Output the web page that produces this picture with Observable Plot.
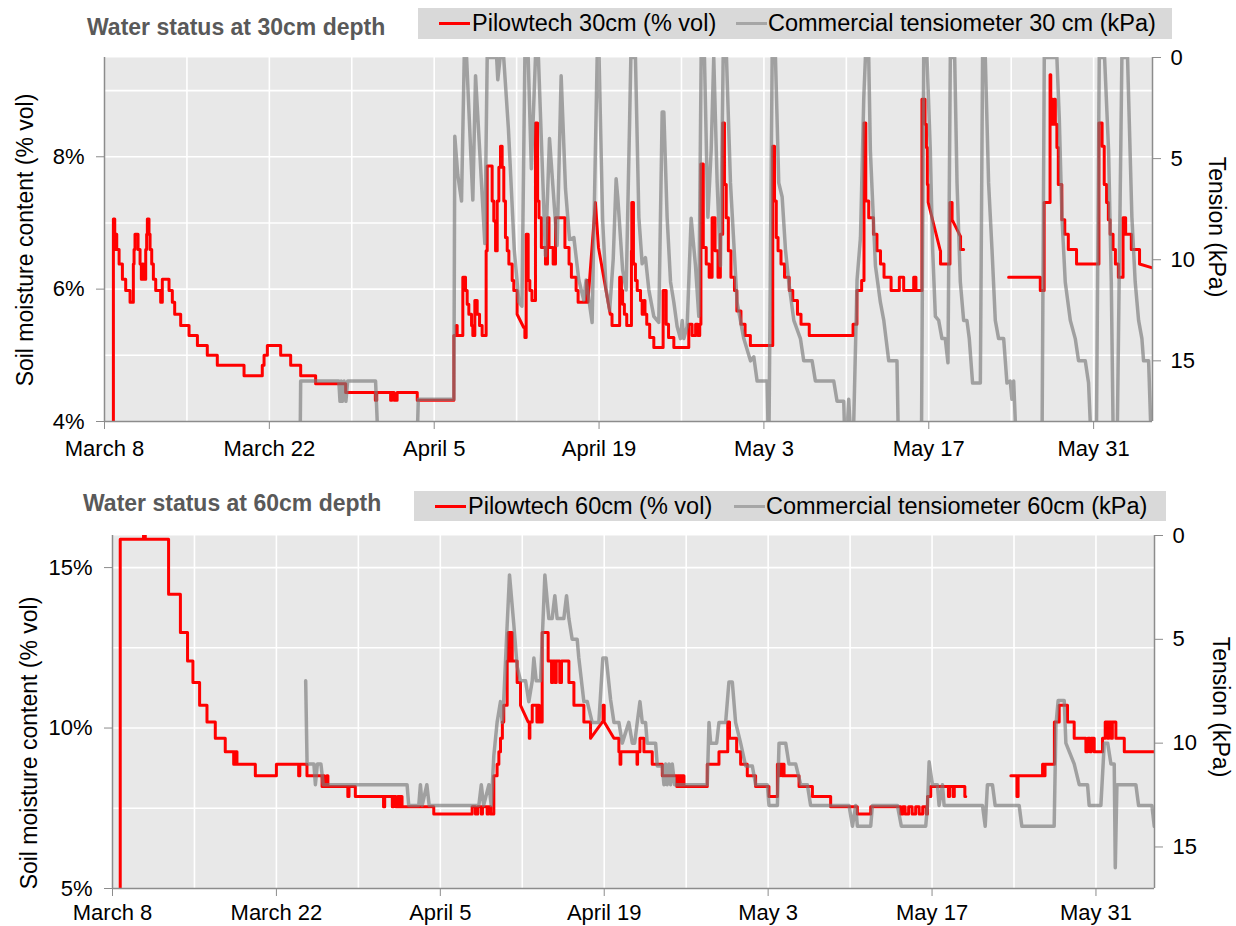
<!DOCTYPE html>
<html><head><meta charset="utf-8">
<script src="https://cdn.jsdelivr.net/npm/d3@7"></script>
<script src="https://cdn.jsdelivr.net/npm/@observablehq/plot@0.6"></script>
<style>
body{margin:0;background:#fff;font-family:"Liberation Sans",Arial,Helvetica,sans-serif;}
#wrap{position:relative;width:1236px;height:926px;overflow:hidden;background:#fff;}
.title{position:absolute;font-weight:bold;font-size:23px;line-height:1;color:#595959;white-space:nowrap;}
.legend{position:absolute;background:#d9d9d9;}
.legend .sw{position:absolute;width:31px;height:3px;}
.legend .tx{position:absolute;top:0;font-size:23.5px;color:#000;white-space:nowrap;}
.atitle{position:absolute;font-size:23px;line-height:1;color:#000;white-space:nowrap;}
.chart{position:absolute;left:0;}
</style></head>
<body><div id="wrap"></div>
<script>
// ---------- data (day offset from March 8, value) ----------
// Pilowtech 30cm (% vol); third element 1 = linear ramp to next reading; null = no data
const p30 = [
[0.72,0],[0.755,7.06],[0.87,6.83],[0.95,6.60],[1.0,6.83],[1.04,6.60],[1.24,6.38],[1.52,6.15],[1.8,5.98],[2.17,5.80],[2.45,6.38],[2.51,6.60],[2.59,6.83],[2.85,6.60],[3.02,6.38],[3.13,6.15],[3.2,6.38],[3.3,6.15],[3.5,6.60],[3.58,6.83],[3.64,7.06],[3.78,6.83],[3.87,6.60],[4.01,6.38],[4.15,6.15],[4.35,5.98],[4.77,5.80],[4.91,6.15],[5.48,5.98],[5.76,5.80],[5.96,5.62],[6.47,5.45],[7.18,5.30],[7.89,5.15],[8.73,5.00],[9.58,4.85],[11.85,4.69],[13.4,4.85],[13.55,5.00],[13.83,5.15],[14.96,5.00],[15.81,4.85],[16.66,4.69],[17.93,4.57],[20.48,4.44],[23.0,4.32],[23.12,4.44],[24.3,4.32],[24.4,4.44],[24.6,4.32],[24.85,4.44],[26.56,4.32],
[29.67,5.30],[29.87,5.45],[29.95,5.30],[30.43,6.18],[30.66,5.98],[30.8,5.77],[30.94,5.62],[31.17,5.45],[31.28,5.30],[31.45,5.83],[31.65,5.62],[31.85,5.45],[32.07,5.30],[32.41,6.58],[32.5,7.86],[32.92,7.33],[33.06,7.03],[33.21,6.58],[33.35,7.33],[33.49,7.84],[33.63,8.16],[33.77,7.84],[33.91,7.33],[34.05,6.78],[34.2,6.58],[34.34,6.38],[34.62,6.13],[34.76,5.98],[35.04,5.62,1],[35.6,5.42],[35.7,5.27],[35.81,6.83],[35.98,6.13],[36.12,5.98],[36.3,5.83],[36.6,8.51],[36.78,7.33],[36.9,7.08],[37.1,6.63],[37.45,6.38],[37.62,7.08],[37.75,6.63],[38.1,6.38],[38.3,7.08],[39.1,6.63],[39.45,6.38],[39.65,6.18],[40.05,5.98],[40.22,5.80],[40.95,6.13],[41.05,5.80,1],[41.69,7.31,1],[41.95,6.63,1],[42.95,5.62],[43.1,5.45],[43.75,6.18],[43.9,5.98],[44.0,5.77],[44.15,5.62],[44.35,5.45],
[44.75,6.58],[44.78,7.31],[44.92,6.38],[45.09,6.13],[45.24,5.98],[45.52,5.83],[45.66,5.62],[45.8,5.83],[45.9,5.62],[46.05,5.47],[46.3,5.27],[46.65,5.12],[47.44,5.98],[47.7,5.47],[47.9,5.27],[48.35,5.12],[49.62,5.47],[49.9,5.30],[50.2,5.47],[50.4,5.30],[50.55,5.47],[50.65,7.89],[50.85,6.63],[51.1,6.38],[51.35,6.18],[51.6,7.08],[51.85,6.58],[52.1,6.18],[52.3,6.83],[52.5,8.51],[52.65,7.58],[52.8,7.08],[52.98,6.58],[53.2,6.18],[53.5,5.98],[53.7,5.67],[54.05,5.47],[54.4,5.30],[54.85,5.15],[56.75,8.16],[56.9,7.33],[57.05,6.78],[57.2,6.58],[57.45,6.38],[57.75,6.18],[58.15,5.98],[58.45,5.83],[58.85,5.62],[59.15,5.47],[59.85,5.30],[63.57,5.47],[63.9,5.98],[64.3,6.13],[64.5,8.51],[64.65,7.33],[64.9,7.08],[65.3,6.83],[65.6,6.58],[65.9,6.38],[66.2,6.18],[66.8,5.98],[67.5,6.18],[67.87,5.98],[68.72,6.18],[68.91,5.98],
[69.42,8.87],[69.68,8.49],[69.8,8.14],[69.88,7.58],[69.95,7.31,1],[70.98,6.58],[71.0,6.38],[71.8,7.31],[71.98,7.05,1],[72.68,6.80],[72.7,6.60],[72.96,null],
[76.78,6.18],[79.47,5.98],[79.8,7.31],[80.3,9.24],[80.36,8.49],[80.45,8.87],[80.55,8.49],[80.65,8.87],[80.75,8.49],[80.88,8.14],[81.0,7.58],[81.3,7.05],[81.55,6.83],[81.85,6.60],[82.55,6.38],[84.45,8.51],[84.72,8.16],[84.9,7.58],[85.1,7.31],[85.25,7.05],[85.4,6.83],[85.65,6.60],[85.85,6.38],[86.1,6.18],[86.5,7.08],[86.72,6.83],[87.2,6.60],[87.9,6.38,1],[89.0,6.32]
];
// Commercial tensiometer 30 cm (kPa)
const t30 = [
[16.6,20],[16.66,16.0],[19.9,16.0],[20.0,17.0],[20.1,16.0],[20.2,17.0],[20.35,16.0],[20.5,17.0],[20.65,16.0],[23.02,16.0],[23.3,20],[26.5,20],[26.65,16.9],[29.67,16.9],[29.75,3.9],[30.0,5.8],[30.32,7.1],[30.55,0],[30.75,0],[31.28,7.05],[31.51,0.9],[32.3,9.2],[32.5,0],[33.3,0],[33.4,1.1],[33.6,0],[33.9,0],[34.3,3.5],[34.8,9.5],[35.19,12.1],[35.45,12.3],[35.7,0],[35.98,0],[36.25,5.5],[36.6,0],[36.85,0],[37.45,9.8],[37.79,4.0],[38.44,9.3],[38.78,0.9],[39.15,6.5],[39.49,9.0],[39.86,8.9],[40.28,11.0],[40.7,12.0],[40.9,11.0],[41.41,13.1],[41.84,0],[42.0,0],[42.3,8.0],[42.6,11.5],[42.9,12.5],[43.2,10.0],[43.45,6.0],[43.6,7.0],[44.0,10.5],[44.3,11.5],[44.6,3.0],[44.7,0],[45.09,0],
[45.38,7.9],[45.66,10.2],[45.94,9.9],[46.23,11.5],[46.65,12.8],[47.07,13.1],[47.36,2.7],[47.5,2.7],[47.78,7.9],[48.07,11.1],[48.35,12.1],[48.63,13.3],[48.91,13.9],[49.06,13.0],[49.2,13.9],[49.48,13.3],[49.82,7.95],[50.19,10.3],[50.47,12.8],[50.67,0],[50.95,0],[51.24,7.9],[51.52,4.6],[51.74,0],[52.03,6.2],[52.31,10.3],[52.54,0],[52.82,0],[53.16,6.2],[53.72,12.1],[54.29,13.9],[54.86,15.0],[55.14,14.8],[55.42,16.0],[56.27,16.0],[56.41,20],[56.7,0],[56.98,0],[57.26,6.2],[57.55,6.9],[57.83,9.5],[58.11,11.1],[58.54,13.0],[59.1,13.9],[59.38,15.0],[60.09,15.0],[60.37,16.0],[61.93,16.0],[62.21,17.0],[62.78,17.0],[62.92,20],[63.2,16.9],[63.49,20],[63.63,18],[63.91,11],[64.2,8.9],[64.48,2],[64.62,0],[64.9,0],[65.04,4.6],[65.47,10.3],[65.89,12.1],[66.18,13.0],[66.6,15.0],[67.3,15.0],[67.45,20],
[69.37,20],[69.57,0],[69.85,0],[70.13,4.6],[70.33,9.5],[70.56,12.8],[70.84,13.0],[71.12,13.9],[71.4,13.9],[71.63,15.1],[71.83,0],[72.2,0],[72.4,6.2],[72.68,11.1],[72.96,13.0],[73.24,13.0],[73.44,13.9],[73.72,16.1],[74.38,16.1],[74.57,0],[74.8,0],[75.08,6.2],[75.37,9.5],[75.65,13.0],[75.93,13.9],[76.36,13.9],[76.64,16.1],[76.92,16.0],[77.06,16.9],[77.21,16.0],[77.49,20],[79.61,20],[79.81,0],[80.88,0],[81.08,2.95],[81.31,7.9],[81.59,11.1],[82.02,13.0],[82.44,13.9],[82.72,15.0],[83.29,15.0],[83.57,16.1],[83.86,20],[84.22,20],[84.48,0],[84.93,0],[85.27,4.6],[85.5,11.1],[85.69,20],[85.98,20],[86.4,0],[86.88,0],[87.25,7.9],[87.53,11.1],[87.82,13.0],[88.1,13.9],[88.24,15.0],[88.67,15.0],[88.95,20]
];
// Pilowtech 60cm (% vol)
const p60 = [
[0.62,0],[0.66,15.88],[2.65,16.0],[2.8,15.88],[4.79,14.17],[5.8,12.98],[6.41,12.09],[6.87,11.42],[7.44,10.71],[8.07,10.19],[8.78,9.68],[9.63,9.26],[10.35,8.87],[10.42,9.26],[10.5,8.87],[10.56,9.26],[10.63,8.87],[12.2,8.51],[14.0,8.87],[15.9,8.51],[16.0,8.87],[16.61,8.51],[17.9,8.18],[18.0,8.51],[18.1,8.18],[18.3,8.51],[18.4,8.18],[20.1,7.87],[20.2,8.18],[20.74,7.87],[23.15,7.55],[23.25,7.87],[23.9,7.55],[24.0,7.87],[24.2,7.55],[24.35,7.87],[24.5,7.55],[24.6,7.87],[24.73,7.55],[27.44,7.32],[30.72,7.55],[31.0,7.32],[31.2,7.55],[31.5,7.32],[31.6,7.55],[32.0,7.32],[32.1,7.55],[32.3,7.32],
[32.57,8.51],[32.85,8.87],[33.0,9.26],[33.14,9.68],[33.3,10.19],[33.42,10.71],[33.71,12.09],[33.8,12.98],[33.95,12.09],[34.0,12.98],[34.14,12.09],[34.56,11.42],[34.85,10.71,1],[35.5,10.19],[35.6,9.68],[35.65,10.19],[35.85,10.71],[36.25,10.19],[36.3,10.71],[36.45,10.19],[36.7,12.98],[37.21,12.09],[37.5,11.42],[37.6,12.09],[37.8,11.42],[37.9,12.09],[38.2,11.42],[38.35,12.09],[38.98,11.42],[39.41,10.71],[40.26,10.19],[40.83,9.68,1],[41.85,10.19],[41.9,10.71],[42.0,10.19,1],[42.83,9.68],[43.25,9.26],[43.35,8.87],[43.42,9.26],[44.8,8.87],[44.85,9.26],[45.05,9.68],[45.39,9.26],[46.1,8.87],[46.96,8.51],[48.2,8.18],[48.3,8.51],[48.4,8.18],[48.5,8.51],[48.6,8.18],[48.7,8.51],[48.81,8.18],[50.8,8.87],[51.8,9.26],[52.55,10.19],[52.7,9.68],[53.31,9.26],[53.65,8.87],[54.22,8.51],[54.93,8.18],[56.07,7.87],[56.79,8.87],[56.9,8.51],[57.0,8.87],[57.2,8.51],[57.3,8.87],[57.36,8.51],[58.64,8.18],[59.78,7.87],[61.34,7.55],[63.62,7.32],[64.76,7.55],
[67.33,7.32],[67.5,7.55],[67.7,7.32],[68.0,7.55],[68.3,7.32],[68.6,7.55],[68.9,7.32],[69.2,7.55],[69.5,7.32],[69.61,7.87],[69.89,8.18],[71.4,7.87],[71.5,8.18],[71.8,7.87],[71.9,8.18],[72.8,7.87],[72.88,null],
[76.73,8.51],[77.25,7.87],[77.35,8.51],[79.44,8.87],[79.55,8.51],[79.65,8.87],[80.45,10.19],[80.86,10.71],[81.57,10.19],[82.14,9.68],[83.14,9.26],[83.3,9.68],[83.5,9.26],[83.6,9.68],[83.85,9.26],[84.56,9.68],[84.79,10.19],[85.0,9.68],[85.1,10.19],[85.3,9.68],[85.4,10.19],[85.7,9.68],[86.42,9.26],[89.1,9.26]
];
// Commercial tensiometer 60cm (kPa)
const t60 = [
[16.5,7.0],[16.62,11.0],[17.2,11.0],[17.33,12.0],[17.5,11.0],[17.8,11.0],[18.0,12.0],[25.16,12.0],[25.3,13.0],[26.16,13.0],[26.3,12.0],[26.45,13.0],[26.85,12.0],[27.05,13.0],[31.29,13.0],[31.5,12.0],[31.7,13.0],[32.15,12.0],[32.35,13.0],[32.57,10.6],[32.85,9.0],[33.14,8.0],[33.28,9.0],[33.42,7.9],[33.71,4.3],[33.91,1.9],[34.28,4.3],[34.56,6.3],[34.85,7.0],[35.28,7.0],[35.56,8.0],[35.85,7.0],[35.99,5.9],[36.19,7.0],[36.56,7.0],[36.93,1.9],[37.27,4.0],[37.55,4.0],[37.78,2.9],[37.98,4.0],[38.55,4.0],[38.78,2.9],[38.98,4.0],[39.26,5.0],[39.69,5.0],[39.83,5.9],[40.26,8.0],[40.55,8.0],[40.97,9.0],[41.54,9.0],[41.88,5.9],[42.17,5.9],[42.54,7.9],[42.83,9.0],[43.25,9.0],[43.54,10.0],[44.1,9.0],[44.4,10.0],[44.6,10.0],[44.82,9.0],[45.05,8.0],[45.25,9.0],[45.53,9.0],[45.67,10.0],[46.39,10.0],[46.53,11.1],[46.96,11.1],[47.1,12.0],[47.24,11.0],[47.38,12.0],[47.53,11.0],[47.67,12.0],[47.81,11.0],[48.01,12.0],[50.8,12.0],[50.95,9.0],[51.09,10.0],[51.6,10.0],[51.8,9.0],[52.37,9.0],[52.65,7.06],[52.94,7.06],[53.22,9.0],[53.65,10.0],[54.08,11.1],[54.65,11.1],[54.93,12.0],[55.93,12.0],[56.07,13.0],[56.79,13.0],[56.93,10.0],[57.5,10.0],[57.78,11.0],[58.35,11.0],[58.78,12.0],[59.35,12.0],[59.63,13.0],[62.91,13.0],[63.2,14.0],[63.48,13.0],[63.62,14.0],[64.76,14.0],[64.91,13.0],[67.04,13.0],[67.38,14.0],[69.46,14.0],[69.61,13.0],[69.75,10.9],[70.03,12.0],[70.46,12.0],[70.6,13.0],[70.89,12.0],[71.03,13.0],[74.31,13.0],[74.54,14.0],[74.73,12.0],[75.16,12.0],[75.39,13.0],[77.44,13.0],[77.67,14.0],[80.43,14.0],[80.58,9.15],[80.77,7.95],[81.29,7.95],[81.43,10.0],[82.14,11.0],[82.57,12.0],[83.28,12.0],[83.42,13.0],[84.42,13.0],[84.71,10.0],[85.0,10.0],[85.28,11.0],[85.56,11.0],[85.65,16.0],[85.79,12.0],[87.41,12.0],[87.64,13.0],[88.78,13.0],[88.98,14.0]
];
// axes
const tickDays = [0, 14, 28, 42, 56, 70, 84];
const tickLabels = ["March 8", "March 22", "April 5", "April 19", "May 3", "May 17", "May 31"];
const gridDays = [7, 14, 21, 28, 35, 42, 49, 56, 63, 70, 77, 84];
const xEndDay = 89;
const moist30Ticks = [4, 6, 8];
const moist30Grid = [5, 6, 7, 8, 9];
const moist30Domain = [4, 9.5];
const moist60Ticks = [5, 10, 15];
const moist60Grid = [7.5, 10, 12.5, 15];
const moist60Domain = [5, 16];
const tensionTicks = [0, 5, 10, 15];
const tension30Max = 18;
const tension60Max = 17;
const titles = ["Water status at 30cm depth", "Water status at 60cm depth"];
const legend30 = ["Pilowtech 30cm (% vol)", "Commercial tensiometer 30 cm (kPa)"];
const legend60 = ["Pilowtech 60cm (% vol)", "Commercial tensiometer 60cm (kPa)"];
const yTitleLeft = "Soil moisture content (% vol)";
const yTitleRight = "Tension (kPa)";

// ---------- drawing ----------
const FONT = "'Liberation Sans', Arial, Helvetica, sans-serif";
const RED = "#ff0000", GRAY = "#7a7a7a", AX = "#8c8c8c", BG = "#e8e8e8";
const DAY = 864e5, T0 = Date.UTC(2021, 2, 8);
const toDate = d => new Date(T0 + d * DAY);
const labelOf = new Map(tickDays.map((d, i) => [+toDate(d), tickLabels[i]]));

function stepLine(rows) {
  const out = [];
  rows.forEach((r, i) => {
    const [d, v, ramp] = r;
    if (v == null) { out.push({x: toDate(d), y: NaN}); return; }
    out.push({x: toDate(d), y: v});
    const nx = rows[i + 1];
    if (nx && !ramp) out.push({x: toDate(nx[0]), y: v});
  });
  return out;
}

function panel({p, t, domain, tMax, ticks, grid, height, mt, mb, ml, mr, padX}) {
  const k = (domain[1] - domain[0]) / tMax;
  const toY = v => domain[1] - v * k;
  const fromY = y => Math.round((domain[1] - y) / k);
  return Plot.plot({
    width: 1236, height,
    marginTop: mt, marginBottom: mb, marginLeft: ml, marginRight: mr,
    x: {type: "utc", domain: [toDate(0), toDate(xEndDay)]},
    y: {domain},
    style: {fontFamily: FONT, fontSize: "22px", color: "#000", background: "transparent", overflow: "visible"},
    marks: [
      Plot.frame({fill: BG, stroke: null}),
      Plot.gridY(grid, {stroke: "#fff", strokeOpacity: 1, strokeWidth: 1.6}),
      Plot.gridX(gridDays.map(toDate), {stroke: "#fff", strokeOpacity: 1, strokeWidth: 1.6}),
      Plot.line(stepLine(p), {x: "x", y: "y", stroke: RED, strokeWidth: 3, clip: true, strokeLinejoin: "round"}),
      Plot.line(t, {x: d => toDate(d[0]), y: d => toY(d[1]), stroke: GRAY, strokeOpacity: 0.65, strokeWidth: 3.5, clip: true, strokeLinejoin: "round"}),
      Plot.ruleX([toDate(0), toDate(xEndDay)], {stroke: AX, strokeWidth: 1.5}),
      Plot.ruleY([domain[0]], {stroke: AX, strokeWidth: 1.5}),
      Plot.axisX(tickDays.map(toDate), {tickFormat: d => labelOf.get(+d), tickSize: 8, tickPadding: padX, stroke: AX, fill: "#000", fontSize: 22, label: null}),
      Plot.axisY(ticks, {anchor: "left", tickFormat: d => d + "%", tickSize: 8, tickPadding: 12, stroke: AX, fill: "#000", fontSize: 22, label: null}),
      Plot.axisY(tensionTicks.map(toY), {anchor: "right", tickFormat: d => String(fromY(d)), tickSize: 8, tickPadding: 10, stroke: AX, fill: "#000", fontSize: 22, label: null})
    ]
  });
}

const wrap = document.getElementById("wrap");
function add(el, css) { Object.assign(el.style, css); wrap.appendChild(el); return el; }
function div(cls, text, css) { const e = document.createElement("div"); e.className = cls; if (text != null) e.textContent = text; return add(e, css); }

// top chart
const c1 = panel({p: p30, t: t30, domain: moist30Domain, tMax: tension30Max, ticks: moist30Ticks, grid: moist30Grid, height: 415, mt: 9, mb: 42, ml: 104, mr: 84, padX: 11});
c1.classList.add("chart"); add(c1, {top: "48px"});
// bottom chart
const c2 = panel({p: p60, t: t60, domain: moist60Domain, tMax: tension60Max, ticks: moist60Ticks, grid: moist60Grid, height: 401, mt: 10, mb: 38, ml: 112, mr: 82, padX: 8});
c2.classList.add("chart"); add(c2, {top: "525px"});

// titles
div("title", titles[0], {left: "87px", top: "16px"});
div("title", titles[1], {left: "83px", top: "492px"});

// legends
function legend(items, box, sw, tx) {
  const L = div("legend", null, {left: box[0] + "px", top: box[1] + "px", width: box[2] + "px", height: box[3] + "px"});
  [RED, "#a6a6a6"].forEach((c, i) => {
    const s = document.createElement("div"); s.className = "sw";
    Object.assign(s.style, {left: sw[i] + "px", top: (box[3] / 2 - 1.5) + "px", background: c}); L.appendChild(s);
    const t = document.createElement("div"); t.className = "tx"; t.textContent = items[i];
    Object.assign(t.style, {left: tx[i] + "px", lineHeight: box[3] + "px"}); L.appendChild(t);
  });
}
legend(legend30, [418, 8, 754, 31], [21, 318], [54, 350]);
legend(legend60, [414, 491, 752, 30], [21, 320], [54, 352]);

// axis titles
function atitle(text, cx, cy, rot) {
  div("atitle", text, {left: cx + "px", top: cy + "px", transform: `translate(-50%,-50%) rotate(${rot}deg)`});
}
atitle(yTitleLeft, 25, 240, -90);
atitle(yTitleLeft, 29, 743, -90);
atitle(yTitleRight, 1216, 227, 90);
atitle(yTitleRight, 1220, 707, 90);
</script></body></html>
